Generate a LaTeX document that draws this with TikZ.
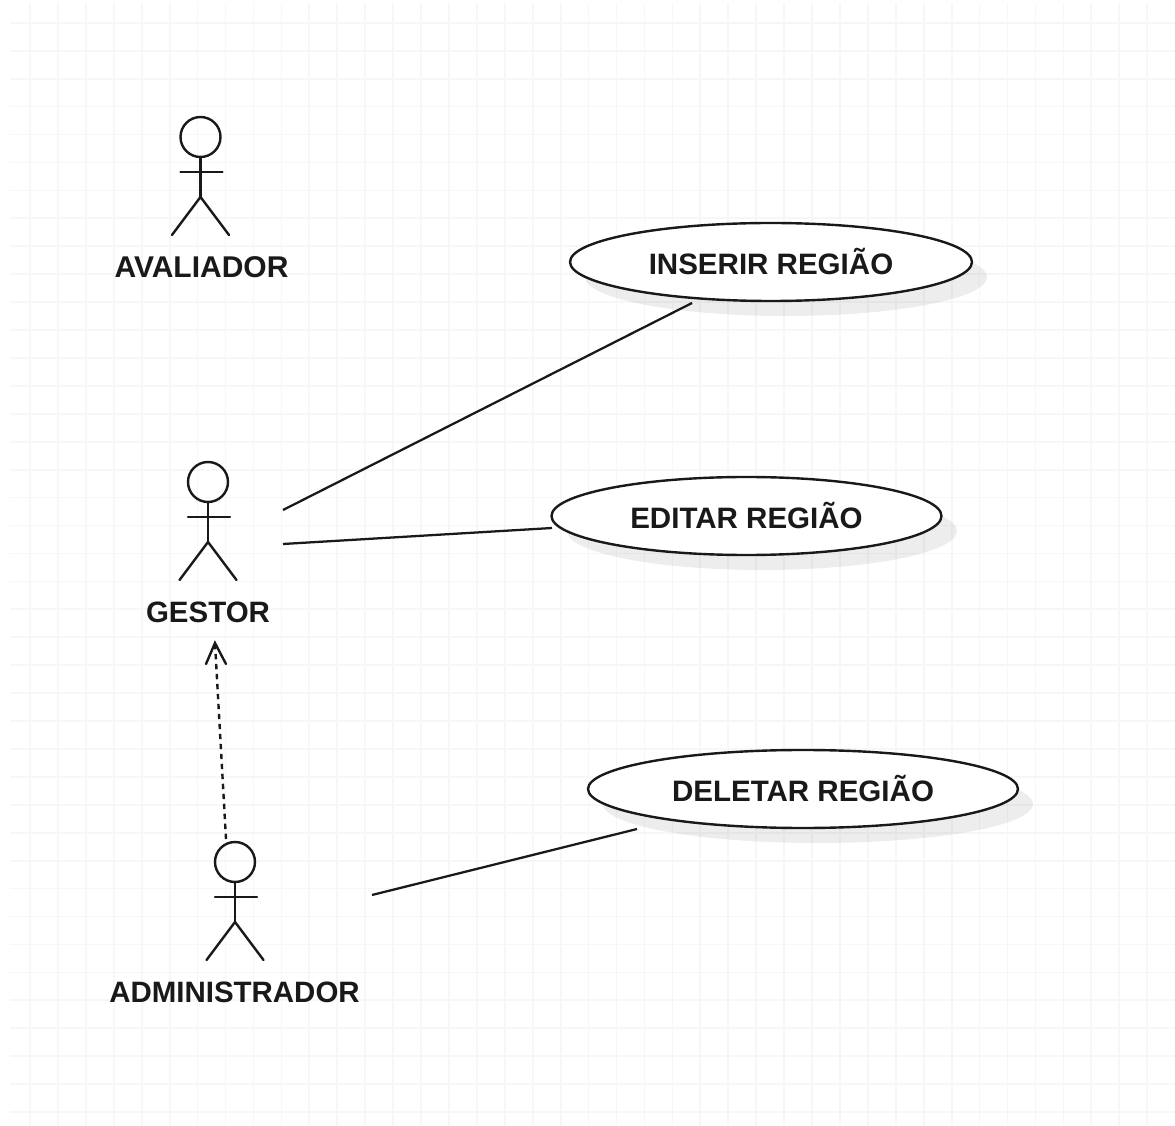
\documentclass[tikz,border=0pt]{standalone}
\usepackage{fontspec}
\setmainfont{Liberation Sans}
\usetikzlibrary{shapes.geometric}
\tikzset{
  gridline/.style={draw=black!3,line width=1.3pt},
  actorline/.style={draw=black!90,line width=1.8pt,line cap=round},
  pics/actor/.style={code={
    \draw[actorline] (0,0) circle[radius=20];
    \draw[actorline] (0,20) -- (0,60);
    \draw[actorline] (-20,35) -- (22,35);
    \draw[actorline] (-28.5,98) -- (0,60) -- (28.5,98);
  }},
  ucase/.style={ellipse,draw=black!90,line width=1.8pt,fill=white,inner sep=0pt,font=\fontsize{22.15}{26}\selectfont\bfseries,text=black!90},
  ushadow/.style={ellipse,fill=black,fill opacity=0.07,inner sep=0pt},
  actorlabel/.style={font=\fontsize{22.1}{27}\selectfont\bfseries,text=black!90,inner sep=0pt},
  assoc/.style={draw=black!90,line width=1.7pt},
  dep/.style={draw=black!90,line width=1.8pt,dash pattern=on 4pt off 3.5pt},
  deptip/.style={draw=black!90,line width=1.8pt,line cap=round,line join=miter}
}
\begin{document}
\begin{tikzpicture}[x=0.75pt,y=-0.75pt,line join=round]
\useasboundingbox[fill=white] (0,0) rectangle (1175,1126);
\foreach \k in {0,...,40}{
  \draw[gridline] ({30+27.93*\k},3) -- ({30+27.93*\k},1126);
  \draw[gridline] (10,{22.8+27.93*\k}) -- (1175,{22.8+27.93*\k});
}
% shadows
\node[ushadow,minimum width=301.5pt,minimum height=58.5pt] at (786,277) {};
\node[ushadow,minimum width=292.5pt,minimum height=58.5pt] at (762,531) {};
\node[ushadow,minimum width=322.5pt,minimum height=58.5pt] at (818,804) {};
% use cases
\node[ucase,minimum width=301.5pt,minimum height=58.5pt] (inserir) at (771,262) {\raisebox{1.7pt}{INSERIR REGIÃO}};
\node[ucase,minimum width=292.5pt,minimum height=58.5pt] (editar) at (746.5,516) {\raisebox{1pt}{EDITAR REGIÃO}};
\node[ucase,minimum width=322.5pt,minimum height=58.5pt] (deletar) at (803,789) {\raisebox{1.5pt}{DELETAR REGIÃO}};
% actors
\pic at (200.5,137) {actor};
\pic at (208,482) {actor};
\pic at (235,862) {actor};
\node[actorlabel,font=\fontsize{22.5}{27}\selectfont\bfseries] (avaliador) at (201.5,267) {AVALIADOR};
\node[actorlabel] (gestor) at (208,612) {GESTOR};
\node[actorlabel] (administrador) at (234.5,992) {ADMINISTRADOR};
% connector ends
\coordinate (g1) at (283,510);
\coordinate (g2) at (283,544);
\coordinate (a1) at (372,895);
\coordinate (a2) at (226,839);
\coordinate (i1) at (692,303);
\coordinate (e1) at (552,528);
\coordinate (d1) at (637,829);
\coordinate (gt) at (215,643);
\draw[assoc] (g1) -- (i1);
\draw[assoc] (g2) -- (e1);
\draw[assoc] (a1) -- (d1);
\draw[dep] (a2) -- (gt);
\draw[deptip] (206,664) -- (gt) -- (226,664);
\end{tikzpicture}
\end{document}
